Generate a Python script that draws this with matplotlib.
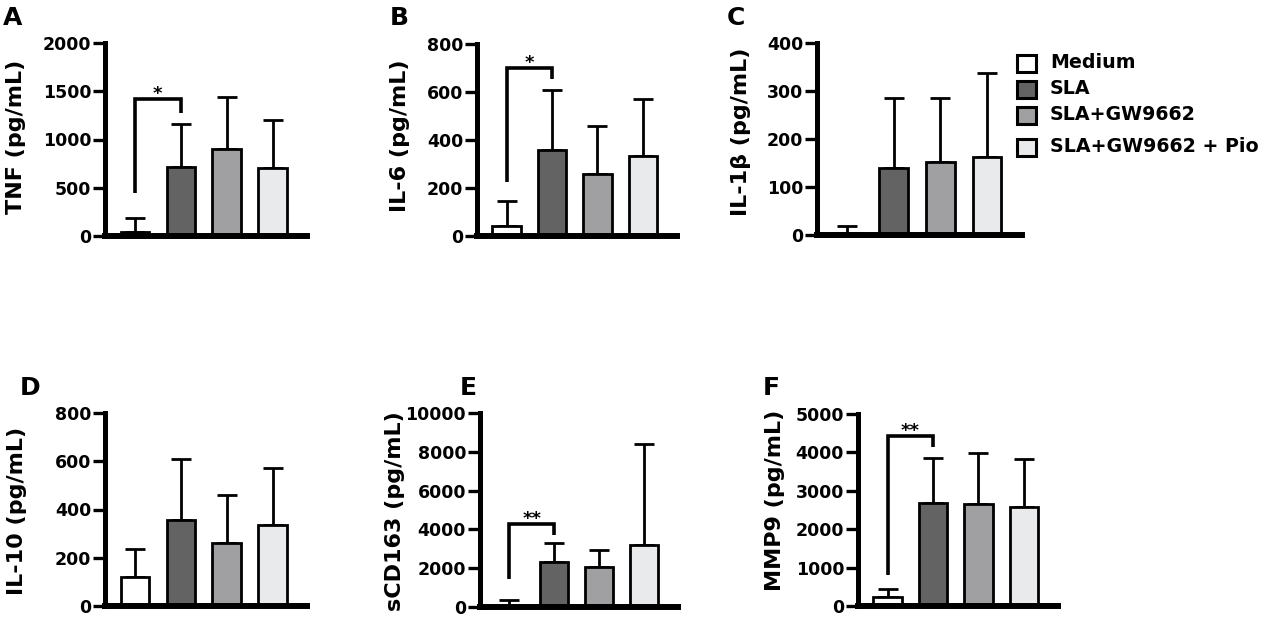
import matplotlib
matplotlib.use("Agg")
import matplotlib.pyplot as plt
from matplotlib.patches import Rectangle
import numpy as np

plt.rcParams['font.family'] = ['DejaVu Sans']
plt.rcParams['font.weight'] = 'bold'

W, H = 1279, 617

# ---------------- data ----------------
groups = ["Medium", "SLA", "SLA+GW9662", "SLA+GW9662 + Pio"]
colors = ["#ffffff", "#636363", "#a0a0a2", "#e9eaeb"]

tnf_mean = [45, 710, 905, 700]
tnf_top = [190, 1160, 1440, 1200]
il6_mean = [43, 360, 260, 335]
il6_top = [146, 608, 460, 572]
il1b_mean = [5, 139, 152, 162]
il1b_top = [19, 285, 285, 338]
il10_mean = [120, 357, 260, 335]
il10_top = [238, 608, 460, 572]
scd163_mean = [60, 2330, 2040, 3180]
scd163_top = [370, 3280, 2940, 8400]
mmp9_mean = [230, 2680, 2650, 2590]
mmp9_top = [440, 3860, 3990, 3830]

ylabels = ["TNF (pg/mL)", "IL-6 (pg/mL)", "IL-1β (pg/mL)",
           "IL-10 (pg/mL)", "sCD163 (pg/mL)", "MMP9 (pg/mL)"]
letters = ["A", "B", "C", "D", "E", "F"]
ymax = [2000, 800, 400, 800, 10000, 5000]
ystep = [500, 200, 100, 200, 2000, 1000]

# significance brackets: (left bottom, top, right bottom, label) or None
brackets = [(445, 1420, 1275, "*"), (226, 701, 653, "*"), None,
            None, (1430, 4285, 3714, "**"), (808, 4434, 4139, "**")]

means = [tnf_mean, il6_mean, il1b_mean, il10_mean, scd163_mean, mmp9_mean]
tops = [tnf_top, il6_top, il1b_top, il10_top, scd163_top, mmp9_top]

# ---------------- layout (pixels) ----------------
# spine x, axis end x, y of zero, y of top
rects = [(105, 307, 236, 43), (477, 677, 236, 44), (817, 1022, 235, 43),
         (105, 307, 606, 413), (480, 678, 607, 413), (858, 1058, 606, 414)]
ylabel_pos = [(16, 137), (400, 136), (741, 132), (17, 511), (395, 511), (775, 500)]
letter_pos = [(3, 6), (390, 6), (727, 6), (20, 376), (460, 376), (763, 376)]

fig = plt.figure(figsize=(W / 100, H / 100), dpi=100)

def fig_xy(x, y):
    return x / W, 1 - y / H

x = np.arange(len(groups))
for i in range(6):
    sx, ex, y0, yt = rects[i]
    ax = fig.add_axes([sx / W, (H - y0) / H, (ex - sx) / W, (y0 - yt) / H])
    m = np.array(means[i], dtype=float)
    t = np.array(tops[i], dtype=float)
    ax.errorbar(x, m, yerr=[np.zeros_like(m), t - m], fmt='none', ecolor='black',
                elinewidth=2.0, capsize=7, capthick=2.0, zorder=1, clip_on=False)
    ax.bar(x, m, width=0.62, color=colors, edgecolor='black', linewidth=2.0,
           zorder=2, clip_on=False)
    ax.set_xlim(-0.65, 3.75)
    ax.set_ylim(0, ymax[i])
    ax.set_yticks(np.arange(0, ymax[i] + 1, ystep[i]))
    ax.set_xticks([])
    for s in ['top', 'right']:
        ax.spines[s].set_visible(False)
    ax.spines['left'].set_linewidth(3.6)
    ax.spines['bottom'].set_linewidth(4.3)
    ax.spines['left'].set_capstyle('projecting')
    ax.spines['bottom'].set_capstyle('projecting')
    ax.tick_params(axis='y', direction='out', length=9, width=2.4, pad=1,
                   labelsize=12.5)
    for lab in ax.get_yticklabels():
        lab.set_fontweight('bold')
    ax.patch.set_alpha(0)
    ax.set_ylabel(ylabels[i], fontsize=16, fontweight='bold', va='center')
    lx, ly = ylabel_pos[i]
    ax.yaxis.set_label_coords(*fig_xy(lx, ly), transform=fig.transFigure)

    b = brackets[i]
    if b is not None:
        lb, top, rb, lab = b
        ax.plot([0, 0, 1, 1], [lb, top, top, rb], color='black', lw=2.6,
                solid_capstyle='butt', solid_joinstyle='miter', zorder=3, clip_on=False)
        ax.text(0.5, top, lab, ha='center', va='baseline', fontsize=13,
                fontweight='bold', zorder=3)

    lx, ly = letter_pos[i]
    fig.text(*fig_xy(lx, ly), letters[i], ha='left', va='top', fontsize=18,
             fontweight='bold')

# ---------------- legend ----------------
lax = fig.add_axes([0, 0, 1, 1])
lax.set_xlim(0, W)
lax.set_ylim(H, 0)
lax.axis('off')
row_y = [63, 89, 115, 147]
for g, c, ry in zip(groups, colors, row_y):
    lax.add_patch(Rectangle((1017, ry - 8.5), 19, 17, facecolor=c,
                            edgecolor='black', linewidth=2.2))
    lax.text(1050, ry, g, ha='left', va='center', fontsize=13.7, fontweight='bold')

fig.savefig("out.png", dpi=100)
